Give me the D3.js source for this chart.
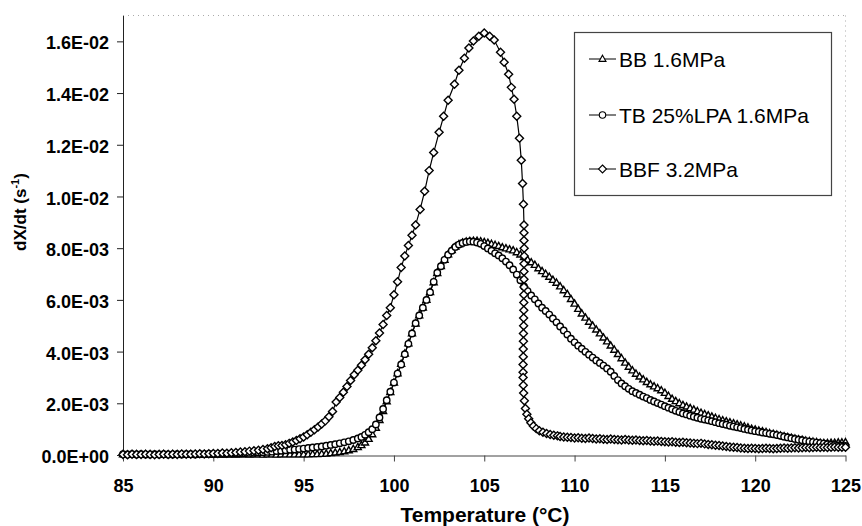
<!DOCTYPE html>
<html><head><meta charset="utf-8">
<script src="https://cdn.jsdelivr.net/npm/d3@7"></script>
<style>
html,body{margin:0;padding:0;background:#fff;}
svg{display:block;}
</style></head>
<body><svg id="chart" width="862" height="526"></svg>
<script>
// ---------------- data (temperature °C, dX/dt s^-1) ----------------
const xTicks = [85, 90, 95, 100, 105, 110, 115, 120, 125];
const yTicks = [0, 0.002, 0.004, 0.006, 0.008, 0.010, 0.012, 0.014, 0.016];
const yTickLabels = ["0.0E+00","2.0E-03","4.0E-03","6.0E-03","8.0E-03","1.0E-02","1.2E-02","1.4E-02","1.6E-02"];
const seriesNames = ["BB 1.6MPa", "TB 25%LPA 1.6MPa", "BBF 3.2MPa"];
const xTitle = "Temperature (°C)";

const bbData = [
[85,0.00002],[85.25,0.00001],[85.5,0.00002],[85.75,0.00002],[86,0.00001],[86.25,0.00002],[86.5,0.00002],[86.75,0.00001],
[87,0.00002],[87.25,0.00002],[87.5,0.00001],[87.75,0.00002],[88,0.00002],[88.25,0.00001],[88.5,0.00002],[88.75,0.00002],
[89,0.00001],[89.25,0.00002],[89.5,0.00002],[89.75,0.00001],[90,0.00002],[90.25,0.00002],[90.5,0.00001],[90.75,0.00002],
[91,0.00002],[91.25,0.00001],[91.5,0.00002],[91.75,0.00002],[92,0.00001],[92.25,0.00002],[92.5,0.00002],[92.75,0.00001],
[93,0.00002],[93.25,0.00002],[93.5,0.00001],[93.75,0.00002],[94,0.00002],[94.25,0.00002],[94.5,0.00002],[94.75,0.00002],
[95,0.00002],[95.25,0.00002],[95.5,0.00003],[95.75,0.00003],[96,0.00004],[96.25,0.00005],[96.5,0.00007],[96.75,0.00009],
[97,0.00011],[97.25,0.00014],[97.5,0.00018],[97.75,0.00023],[98,0.0003],[98.2,0.00038],[98.4,0.00048],[98.6,0.00062],
[98.8,0.0008],[99,0.00105],[99.2,0.00135],[99.4,0.0017],[99.6,0.00207],[99.8,0.00243],[100,0.0028],[100.2,0.00316],
[100.4,0.00352],[100.6,0.00392],[100.8,0.00432],[101,0.0047],[101.2,0.00508],[101.4,0.0054],[101.6,0.0057],[101.8,0.006],
[102,0.0063],[102.2,0.00668],[102.4,0.00703],[102.6,0.0073],[102.8,0.00755],[103,0.00776],[103.2,0.00792],[103.4,0.00806],
[103.6,0.00815],[103.8,0.00821],[104,0.00825],[104.2,0.00827],[104.4,0.00828],[104.6,0.00828],[104.8,0.00826],[105,0.00823],
[105.2,0.0082],[105.4,0.00816],[105.6,0.00812],[105.8,0.00808],[106,0.00803],[106.2,0.00799],[106.4,0.00795],[106.6,0.00791],
[106.8,0.00784],[107,0.00775],[107.2,0.00765],[107.4,0.00755],[107.6,0.00745],[107.8,0.00735],[108,0.00722],[108.2,0.00711],
[108.4,0.007],[108.6,0.00689],[108.8,0.00677],[109,0.00666],[109.2,0.00652],[109.4,0.00637],[109.6,0.00622],[109.8,0.00603],
[110,0.00585],[110.2,0.00565],[110.4,0.00547],[110.6,0.00531],[110.8,0.00515],[111,0.005],[111.2,0.00485],[111.4,0.0047],
[111.6,0.00454],[111.8,0.00439],[112,0.00423],[112.2,0.00407],[112.4,0.0039],[112.6,0.00374],[112.8,0.00357],[113,0.00341],
[113.2,0.00327],[113.4,0.00314],[113.6,0.00303],[113.8,0.00292],[114,0.00282],[114.2,0.00273],[114.4,0.00265],[114.6,0.00258],
[114.8,0.0025],[115,0.0024],[115.2,0.00228],[115.4,0.00217],[115.6,0.00208],[115.8,0.002],[116,0.00193],[116.2,0.00187],
[116.4,0.00181],[116.6,0.00175],[116.8,0.00169],[117,0.00163],[117.2,0.00158],[117.4,0.00153],[117.6,0.00148],[117.8,0.00143],
[118,0.00138],[118.2,0.00134],[118.4,0.0013],[118.6,0.00126],[118.8,0.00122],[119,0.00118],[119.2,0.00114],[119.4,0.0011],
[119.6,0.00106],[119.8,0.00101],[120,0.00098],[120.2,0.00094],[120.4,0.00091],[120.6,0.00088],[120.8,0.00084],[121,0.00081],
[121.2,0.00078],[121.4,0.00075],[121.6,0.00072],[121.8,0.00069],[122,0.00066],[122.2,0.00063],[122.4,0.0006],[122.6,0.00058],
[122.8,0.00055],[123,0.00053],[123.2,0.00051],[123.4,0.00049],[123.6,0.00047],[123.8,0.00046],[124,0.00046],[124.2,0.00047],
[124.4,0.00047],[124.6,0.00048],[124.8,0.00048],[125,0.00049]
];

const tbData = [
[85,0.00003],[85.25,0.00002],[85.5,0.00003],[85.75,0.00002],[86,0.00003],[86.25,0.00002],[86.5,0.00002],[86.75,0.00003],
[87,0.00002],[87.25,0.00003],[87.5,0.00002],[87.75,0.00002],[88,0.00003],[88.25,0.00002],[88.5,0.00003],[88.75,0.00003],
[89,0.00002],[89.25,0.00003],[89.5,0.00003],[89.75,0.00004],[90,0.00003],[90.25,0.00004],[90.5,0.00004],[90.75,0.00005],
[91,0.00005],[91.25,0.00006],[91.5,0.00006],[91.75,0.00007],[92,0.00008],[92.25,0.00009],[92.5,0.0001],[92.75,0.00011],
[93,0.00012],[93.25,0.00013],[93.5,0.00015],[93.75,0.00016],[94,0.00018],[94.25,0.0002],[94.5,0.00021],[94.75,0.00023],
[95,0.00025],[95.25,0.00027],[95.5,0.00029],[95.75,0.00031],[96,0.00033],[96.25,0.00036],[96.5,0.00039],[96.75,0.00042],
[97,0.00045],[97.25,0.00049],[97.5,0.00053],[97.75,0.00058],[98,0.00064],[98.2,0.0007],[98.4,0.00078],[98.6,0.00088],
[98.8,0.001],[99,0.00118],[99.2,0.00145],[99.4,0.00178],[99.6,0.00212],[99.8,0.00245],[100,0.0028],[100.2,0.00315],
[100.4,0.0035],[100.6,0.0039],[100.8,0.0043],[101,0.0047],[101.2,0.0051],[101.4,0.0054],[101.6,0.0057],[101.8,0.006],
[102,0.0063],[102.2,0.0067],[102.4,0.00705],[102.6,0.0073],[102.8,0.00755],[103,0.00775],[103.2,0.0079],[103.4,0.00805],
[103.6,0.00814],[103.8,0.0082],[104,0.00824],[104.2,0.00826],[104.4,0.00825],[104.6,0.00822],[104.8,0.00817],[105,0.00808],
[105.2,0.00799],[105.4,0.0079],[105.6,0.0078],[105.8,0.00772],[106,0.00761],[106.2,0.00748],[106.4,0.00734],[106.6,0.00718],
[106.8,0.00698],[107,0.00676],[107.2,0.00652],[107.4,0.00634],[107.6,0.00617],[107.8,0.00602],[108,0.00586],[108.2,0.0057],
[108.4,0.00557],[108.6,0.00543],[108.8,0.00528],[109,0.00513],[109.2,0.00497],[109.4,0.00482],[109.6,0.00466],[109.8,0.0045],
[110,0.00436],[110.2,0.00423],[110.4,0.00411],[110.6,0.00399],[110.8,0.00388],[111,0.00377],[111.2,0.00366],[111.4,0.00356],
[111.6,0.00346],[111.8,0.00335],[112,0.00322],[112.2,0.00306],[112.4,0.0029],[112.6,0.00277],[112.8,0.00266],[113,0.00256],
[113.2,0.00247],[113.4,0.0024],[113.6,0.00233],[113.8,0.00226],[114,0.0022],[114.2,0.00213],[114.4,0.00207],[114.6,0.00201],
[114.8,0.00195],[115,0.00189],[115.2,0.00183],[115.4,0.00177],[115.6,0.00171],[115.8,0.00166],[116,0.00161],[116.2,0.00157],
[116.4,0.00152],[116.6,0.00148],[116.8,0.00144],[117,0.0014],[117.2,0.00137],[117.4,0.00134],[117.6,0.00131],[117.8,0.00127],
[118,0.00123],[118.2,0.0012],[118.4,0.00117],[118.6,0.00113],[118.8,0.0011],[119,0.00107],[119.2,0.00104],[119.4,0.00101],
[119.6,0.00098],[119.8,0.00095],[120,0.00092],[120.2,0.0009],[120.4,0.00087],[120.6,0.00085],[120.8,0.00082],[121,0.0008],
[121.2,0.00077],[121.4,0.00074],[121.6,0.00071],[121.8,0.00068],[122,0.00065],[122.2,0.00062],[122.4,0.00059],[122.6,0.00057],
[122.8,0.00054],[123,0.00052],[123.2,0.0005],[123.4,0.00048],[123.6,0.00046],[123.8,0.00044],[124,0.00042],[124.2,0.0004],
[124.4,0.00039],[124.6,0.00037],[124.8,0.00036],[125,0.00035]
];

const bbfData = [
[85,0.00002],[85.25,0.00001],[85.5,0.00003],[85.75,0.00002],[86,0.00002],[86.25,0.00003],[86.5,0.00002],[86.75,0.00001],
[87,0.00002],[87.25,0.00003],[87.5,0.00002],[87.75,0.00003],[88,0.00002],[88.25,0.00004],[88.5,0.00003],[88.75,0.00003],
[89,0.00004],[89.25,0.00005],[89.5,0.00004],[89.75,0.00005],[90,0.00006],[90.25,0.00006],[90.5,0.00008],[90.75,0.00007],
[91,0.00009],[91.25,0.0001],[91.5,0.00012],[91.75,0.00013],[92,0.00015],[92.25,0.00016],[92.5,0.00018],[92.75,0.00021],
[93,0.00024],[93.2,0.00028],[93.4,0.00033],[93.6,0.00036],[93.8,0.00037],[94,0.0004],[94.2,0.00045],[94.4,0.0005],
[94.6,0.00056],[94.8,0.00063],[95,0.0007],[95.2,0.00078],[95.4,0.00088],[95.6,0.00098],[95.8,0.00108],[96,0.0012],
[96.2,0.00132],[96.4,0.00148],[96.6,0.00168],[96.8,0.00205],[97,0.00222],[97.2,0.00243],[97.4,0.00265],[97.6,0.00288],
[97.8,0.0031],[98,0.00328],[98.2,0.00347],[98.4,0.00368],[98.6,0.0039],[98.8,0.00415],[99,0.00442],[99.2,0.00472],
[99.4,0.00505],[99.6,0.0054],[99.8,0.0057],[100,0.0062],[100.2,0.0067],[100.4,0.00725],[100.6,0.0077],[100.8,0.0081],
[101,0.0085],[101.2,0.0089],[101.45,0.0095],[101.7,0.0102],[101.95,0.011],[102.2,0.0117],[102.5,0.01248],[102.75,0.0131],
[103,0.01372],[103.35,0.01434],[103.6,0.01488],[103.9,0.01535],[104.15,0.01574],[104.4,0.01601],[104.7,0.0162],[105,0.01632],
[105.3,0.0162],[105.55,0.01605],[105.9,0.01558],[106.1,0.01519],[106.35,0.01473],[106.5,0.01422],[106.65,0.01376],[106.8,0.0131],
[106.95,0.01225],[107.05,0.0114],[107.12,0.0105],[107.17,0.0097],[107.2,0.0089],[107.2,0.0086],[107.2,0.0083],[107.21,0.008],
[107.21,0.0077],[107.2,0.0074],[107.2,0.0071],[107.2,0.0068],[107.2,0.0065],[107.19,0.0062],[107.19,0.0059],[107.19,0.0056],
[107.18,0.0053],[107.18,0.005],[107.17,0.0047],[107.17,0.0044],[107.16,0.0041],[107.16,0.0038],[107.15,0.0035],[107.15,0.0032],
[107.15,0.003],[107.16,0.0027],[107.18,0.0024],[107.22,0.0021],[107.28,0.0018],[107.36,0.00158],[107.46,0.0014],[107.58,0.00125],
[107.72,0.00112],[107.88,0.00102],[108.05,0.00094],[108.25,0.00088],[108.45,0.00083],[108.65,0.00079],[108.85,0.00076],[109.05,0.00074],
[109.2,0.00072],[109.4,0.0007],[109.6,0.00069],[109.8,0.00068],[110,0.00066],[110.2,0.00067],[110.4,0.00065],[110.6,0.00064],
[110.8,0.00066],[111,0.00064],[111.2,0.00062],[111.4,0.00063],[111.6,0.00061],[111.8,0.0006],[112,0.00062],[112.2,0.0006],
[112.4,0.00059],[112.6,0.00058],[112.8,0.0006],[113,0.00058],[113.2,0.00057],[113.4,0.00058],[113.6,0.00056],[113.8,0.00055],
[114,0.00056],[114.2,0.00054],[114.4,0.00053],[114.6,0.00054],[114.8,0.00052],[115,0.00051],[115.2,0.0005],[115.4,0.00051],
[115.6,0.00049],[115.8,0.00048],[116,0.00049],[116.2,0.00047],[116.4,0.00046],[116.6,0.00045],[116.8,0.00044],[117,0.00045],
[117.2,0.00043],[117.4,0.00041],[117.6,0.0004],[117.8,0.00038],[118,0.00037],[118.2,0.00035],[118.4,0.00033],[118.6,0.00031],
[118.8,0.0003],[119,0.00029],[119.2,0.00027],[119.4,0.00026],[119.6,0.00025],[119.8,0.00026],[120,0.00025],[120.2,0.00024],
[120.4,0.00025],[120.6,0.00026],[120.8,0.00025],[121,0.00024],[121.2,0.00025],[121.4,0.00026],[121.6,0.00027],[121.8,0.00026],
[122,0.00027],[122.2,0.00028],[122.4,0.00027],[122.6,0.00028],[122.8,0.00029],[123,0.00028],[123.2,0.00029],[123.4,0.0003],
[123.6,0.00029],[123.8,0.0003],[124,0.00029],[124.2,0.0003],[124.4,0.00031],[124.6,0.0003],[124.8,0.0003],[125,0.0003]
];

// ---------------- drawing ----------------
const svg = d3.select("#chart");
svg.append("rect").attr("width", 862).attr("height", 526).attr("fill", "#fff");

const x = d3.scaleLinear().domain([85, 125]).range([123, 845.5]);
const y = d3.scaleLinear().domain([0, 0.017]).range([455, 15.5]);

// dotted top / right borders
svg.append("line").attr("x1", x(85)).attr("x2", x(125)).attr("y1", y(0.017)).attr("y2", y(0.017))
  .attr("stroke", "#aaa").attr("stroke-width", 1).attr("stroke-dasharray", "1,4");
svg.append("line").attr("x1", x(125)).attr("x2", x(125)).attr("y1", y(0.017)).attr("y2", y(0))
  .attr("stroke", "#aaa").attr("stroke-width", 1).attr("stroke-dasharray", "1,4");

// axes
const yAxis = d3.axisLeft(y).tickValues(yTicks).tickFormat((d, i) => yTickLabels[i])
  .tickSize(6).tickSizeOuter(0).tickPadding(8);
const gy = svg.append("g").attr("transform", `translate(${x(85)},0)`).call(yAxis);
gy.selectAll("text").attr("font-family", "Liberation Sans, Arial, sans-serif")
  .attr("font-weight", "bold").attr("font-size", 18).attr("fill", "#000").attr("dy", "0.42em");
gy.selectAll("path,line").attr("stroke", "#222");

const xAxis = d3.axisBottom(x).tickValues(xTicks).tickFormat(d3.format("d"))
  .tickSize(6).tickSizeOuter(0).tickPadding(18);
const gx = svg.append("g").attr("transform", `translate(0,${y(0) + 0.5})`).call(xAxis);
gx.selectAll("text").attr("font-family", "Liberation Sans, Arial, sans-serif")
  .attr("font-weight", "bold").attr("font-size", 18).attr("fill", "#000");
gx.selectAll("path,line").attr("stroke", "#444");

// axis titles
svg.append("text").attr("x", 485).attr("y", 521.5).attr("text-anchor", "middle")
  .attr("font-family", "Liberation Sans, Arial, sans-serif").attr("font-weight", "bold")
  .attr("font-size", 21).text(xTitle);

const yt = svg.append("text").attr("transform", "translate(26,212) rotate(-90)")
  .attr("text-anchor", "middle").attr("font-family", "Liberation Sans, Arial, sans-serif")
  .attr("font-weight", "bold").attr("font-size", 17);
yt.append("tspan").text("dX/dt (s");
yt.append("tspan").attr("font-size", 11).attr("dy", -7).text("-1");
yt.append("tspan").attr("dy", 7).text(")");

// markers
const markerPaths = {
  triangle: "M0,-3.8L3.5,2.4L-3.5,2.4Z",
  circle: "M3.2,0A3.2,3.2 0 1,1 -3.2,0A3.2,3.2 0 1,1 3.2,0Z",
  diamond: "M0,-4L4,0L0,4L-4,0Z"
};
const series = [
  { name: seriesNames[0], data: bbData, marker: "triangle" },
  { name: seriesNames[1], data: tbData, marker: "circle" },
  { name: seriesNames[2], data: bbfData, marker: "diamond" }
];
const line = d3.line().x(d => x(d[0])).y(d => y(d[1]));

series.forEach(s => {
  const g = svg.append("g");
  g.append("path").datum(s.data).attr("d", line).attr("fill", "none")
    .attr("stroke", "#000").attr("stroke-width", 1.2);
  g.selectAll("path.m").data(s.data).join("path").attr("class", "m")
    .attr("d", markerPaths[s.marker])
    .attr("transform", d => `translate(${x(d[0])},${y(d[1])})`)
    .attr("fill", "#fff").attr("stroke", "#000").attr("stroke-width", 1.4);
});

// legend
const lg = svg.append("g");
lg.append("rect").attr("x", 574.5).attr("y", 32.5).attr("width", 257).attr("height", 163)
  .attr("fill", "#fff").attr("stroke", "#444").attr("stroke-width", 1.2);
const legendY = [59, 115, 169];
series.forEach((s, i) => {
  const ly = legendY[i];
  lg.append("line").attr("x1", 589).attr("x2", 616).attr("y1", ly).attr("y2", ly)
    .attr("stroke", "#000").attr("stroke-width", 1);
  lg.append("path").attr("d", markerPaths[s.marker]).attr("transform", `translate(602.5,${ly})`)
    .attr("fill", "#fff").attr("stroke", "#000").attr("stroke-width", 1.1);
  lg.append("text").attr("x", 619).attr("y", ly + 7.5)
    .attr("font-family", "Liberation Sans, Arial, sans-serif").attr("font-size", 21)
    .attr("fill", "#000").text(s.name);
});
</script></body></html>
